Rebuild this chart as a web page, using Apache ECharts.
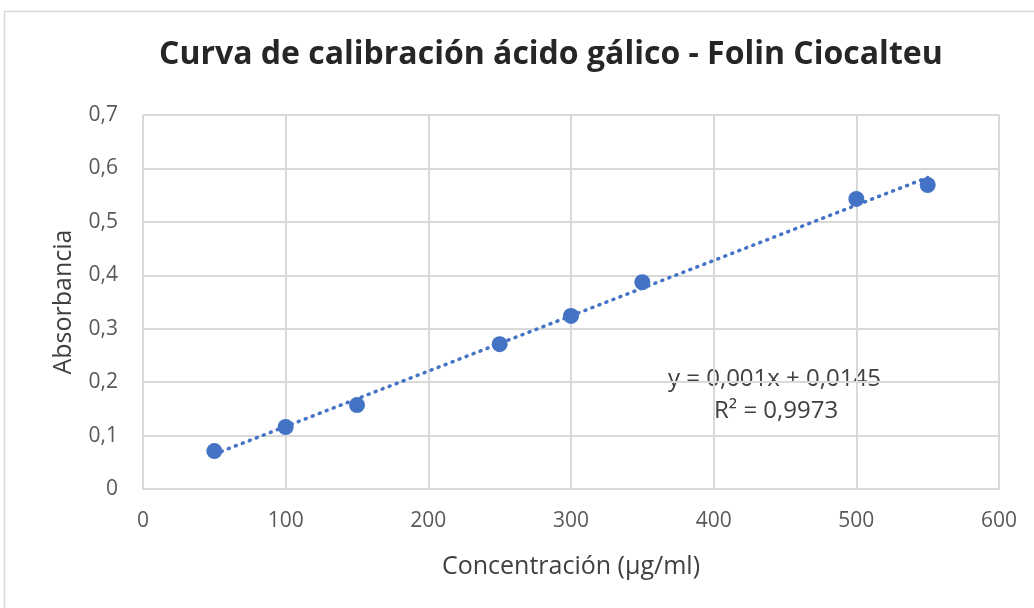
<!DOCTYPE html>
<html>
<head>
<meta charset="utf-8">
<script src="https://cdn.jsdelivr.net/npm/echarts@6/dist/echarts.min.js"></script>
<style>
  html, body { margin: 0; padding: 0; background: #ffffff; }
  #main { width: 1034px; height: 608px; }
</style>
</head>
<body>
<div id="main"></div>
<script>
// concentración (µg/ml) y absorbancia
var concentracion = [50, 100, 150, 250, 300, 350, 500, 550]
var absorbancia = [0.071, 0.116, 0.157, 0.271, 0.324, 0.387, 0.543, 0.569]
var xTicks = [0, 100, 200, 300, 400, 500, 600]
var yTicks = [0, 0.1, 0.2, 0.3, 0.4, 0.5, 0.6, 0.7]
var ecuacion = ['y = 0,001x + 0,0145', 'R² = 0,9973']

// línea de tendencia (mínimos cuadrados)
function tendencia (xs, ys) {
  var n = xs.length
  var mx = 0
  var my = 0
  for (var i = 0; i < n; i++) { mx += xs[i]; my += ys[i] }
  mx /= n; my /= n
  var sxy = 0
  var sxx = 0
  for (var j = 0; j < n; j++) {
    sxy += (xs[j] - mx) * (ys[j] - my)
    sxx += (xs[j] - mx) * (xs[j] - mx)
  }
  var m = sxy / sxx
  var b = my - m * mx
  var x0 = xs[0]
  var x1 = xs[n - 1]
  return [[x0, m * x0 + b], [x1, m * x1 + b]]
}

var myChart = echarts.init(document.getElementById('main'))
var labelFont = 'Open Sans, sans-serif'
myChart.setOption({
  animation: false,
  backgroundColor: '#ffffff',
  title: {
    text: 'Curva de calibración ácido gálico - Folin Ciocalteu',
    left: 154,
    top: 34,
    textStyle: { fontFamily: labelFont, fontSize: 32, fontWeight: 'bold', color: '#262626' }
  },
  grid: { left: 143, right: 35, top: 115, bottom: 119 },
  xAxis: {
    type: 'value',
    min: xTicks[0],
    max: xTicks[xTicks.length - 1],
    interval: 100,
    name: 'Concentración (µg/ml)',
    nameLocation: 'middle',
    nameGap: 65,
    nameTextStyle: { fontFamily: labelFont, fontSize: 25, color: '#404040' },
    axisLine: { show: true, lineStyle: { color: '#d9d9d9', width: 2 } },
    axisTick: { show: false },
    axisLabel: { fontFamily: labelFont, fontSize: 21, color: '#595959', margin: 22 },
    splitLine: { show: true, lineStyle: { color: '#d9d9d9', width: 2 } }
  },
  yAxis: {
    type: 'value',
    min: yTicks[0],
    max: yTicks[yTicks.length - 1],
    interval: 0.1,
    name: 'Absorbancia',
    nameLocation: 'middle',
    nameGap: 67,
    nameTextStyle: { fontFamily: labelFont, fontSize: 25, color: '#404040' },
    axisLine: { show: false },
    axisTick: { show: false },
    axisLabel: {
      fontFamily: labelFont,
      fontSize: 21,
      color: '#595959',
      margin: 25,
      formatter: function (v) { return String(+v.toFixed(1)).replace('.', ',') }
    },
    splitLine: { show: true, lineStyle: { color: '#d9d9d9', width: 2 } }
  },
  graphic: [
    {
      type: 'rect',
      shape: { x: 4.5, y: 11.5, width: 1100, height: 700 },
      style: { fill: null, stroke: '#d9d9d9', lineWidth: 1.5 },
      z: -1
    },
    {
      type: 'text',
      left: 668,
      top: 367,
      style: { text: ecuacion[0], fontFamily: labelFont, fontSize: 24, fill: '#404040' }
    },
    {
      type: 'text',
      left: 714,
      top: 399,
      style: { text: ecuacion[1], fontFamily: labelFont, fontSize: 24, fill: '#404040' }
    }
  ],
  series: [
    {
      type: 'line',
      data: tendencia(concentracion, absorbancia),
      symbol: 'none',
      lineStyle: { color: '#4472c4', width: 3.5, type: [1, 6.5], cap: 'round' },
      z: 2
    },
    {
      type: 'scatter',
      data: concentracion.map(function (x, i) { return [x, absorbancia[i]] }),
      symbol: 'circle',
      symbolSize: 16,
      itemStyle: { color: '#4472c4', opacity: 1 },
      z: 3
    }
  ]
})
</script>
</body>
</html>
